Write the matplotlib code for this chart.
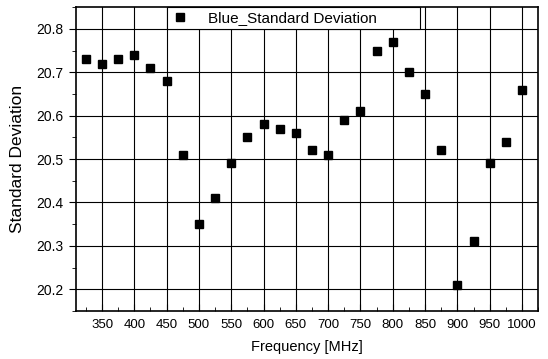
import matplotlib
matplotlib.use("Agg")
import matplotlib.pyplot as plt
from matplotlib.ticker import MultipleLocator

plt.rcParams['font.family'] = ['Liberation Sans', 'DejaVu Sans']

# data
freq = [325, 350, 375, 400, 425, 450, 475, 500, 525, 550, 575, 600, 625, 650,
        675, 700, 725, 750, 775, 800, 825, 850, 875, 900, 925, 950, 975, 1000]
std_dev = [20.73, 20.72, 20.73, 20.74, 20.71, 20.68, 20.51, 20.35, 20.41, 20.49,
           20.55, 20.58, 20.57, 20.56, 20.52, 20.51, 20.59, 20.61, 20.75, 20.77,
           20.70, 20.65, 20.52, 20.21, 20.31, 20.49, 20.54, 20.66]

fig = plt.figure(figsize=(5.48, 3.59), dpi=100)
ax = fig.add_axes([0.139, 0.134, 0.843, 0.846])

ax.plot(freq, std_dev, 's', color='black', markersize=5.5, label='Blue_Standard Deviation')

ax.set_xlim(310, 1025)
ax.set_ylim(20.15, 20.85)
ax.xaxis.set_major_locator(MultipleLocator(50))
ax.xaxis.set_minor_locator(MultipleLocator(25))
ax.yaxis.set_major_locator(MultipleLocator(0.1))
ax.yaxis.set_minor_locator(MultipleLocator(0.05))
ax.set_xticks(range(350, 1001, 50))

ax.grid(True, which='major', color='black', linewidth=0.8)
ax.tick_params(axis='x', which='both', direction='in', labelsize=9.5, pad=6)
ax.tick_params(axis='y', which='both', direction='out', labelsize=10, pad=4)
ax.tick_params(which='major', length=5)
ax.tick_params(which='minor', length=3)
for s in ax.spines.values():
    s.set_linewidth(1.2)

ax.set_xlabel('Frequency [MHz]', fontsize=10.5, labelpad=6)
ax.set_ylabel('Standard Deviation', fontsize=12.5, labelpad=8)

leg = ax.legend(loc='upper left', bbox_to_anchor=(0.197, 0.0, 0.548, 1.0), mode='expand',
                borderaxespad=0, fontsize=11, frameon=True, fancybox=False,
                edgecolor='black', borderpad=0.25, handlelength=1.2,
                handletextpad=1.2, framealpha=1)
leg.get_frame().set_linewidth(0.8)

fig.savefig('out.png', dpi=100)
